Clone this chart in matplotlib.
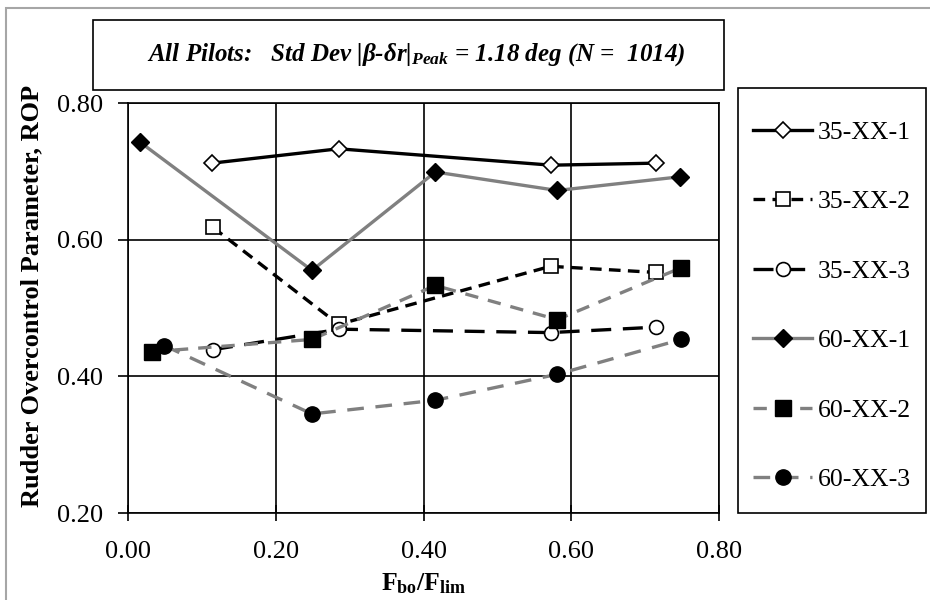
import matplotlib
matplotlib.use("Agg")
import matplotlib.pyplot as plt
from matplotlib.patches import Rectangle

plt.rcParams['font.family'] = ['Liberation Serif', 'DejaVu Serif']
plt.rcParams['mathtext.fontset'] = 'custom'
plt.rcParams['mathtext.rm'] = 'Liberation Serif:bold'
plt.rcParams['mathtext.it'] = 'Liberation Serif:italic:bold'
plt.rcParams['mathtext.bf'] = 'Liberation Serif:bold'

# data
x_35_1 = [0.114, 0.285, 0.573, 0.715]
y_35_1 = [0.712, 0.733, 0.709, 0.712]
x_35_2 = [0.115, 0.285, 0.572, 0.715]
y_35_2 = [0.618, 0.476, 0.561, 0.552]
x_35_3 = [0.115, 0.286, 0.572, 0.715]
y_35_3 = [0.439, 0.469, 0.464, 0.472]
x_60_1 = [0.016, 0.249, 0.416, 0.581, 0.747]
y_60_1 = [0.743, 0.555, 0.699, 0.672, 0.692]
x_60_2 = [0.032, 0.249, 0.416, 0.581, 0.749]
y_60_2 = [0.436, 0.454, 0.533, 0.483, 0.559]
x_60_3 = [0.049, 0.249, 0.416, 0.581, 0.749]
y_60_3 = [0.445, 0.345, 0.365, 0.403, 0.454]
labels = ["35-XX-1", "35-XX-2", "35-XX-3", "60-XX-1", "60-XX-2", "60-XX-3"]

gray = '#808080'
W, H = 930.0, 600.0
fs = 19

fig = plt.figure(figsize=(9.3, 6), dpi=100)
ax = fig.add_axes([128 / W, 1 - 513 / H, (719 - 128) / W, (513 - 103) / H])

lw = 2.4
h1, = ax.plot(x_35_1, y_35_1, color='black', lw=lw, marker='D', ms=8,
              mfc='white', mec='black', mew=1.2)
h2, = ax.plot(x_35_2, y_35_2, color='black', lw=lw, dashes=(3.5, 2.2), marker='s', ms=10,
              mfc='white', mec='black', mew=1.2)
h3, = ax.plot(x_35_3, y_35_3, color='black', lw=lw, dashes=(6, 3.5), marker='o', ms=10,
              mfc='white', mec='black', mew=1.2)
h4, = ax.plot(x_60_1, y_60_1, color=gray, lw=lw, marker='D', ms=9,
              mfc='black', mec='black')
h5, = ax.plot(x_60_2, y_60_2, color=gray, lw=lw, dashes=(4, 3), marker='s', ms=11,
              mfc='black', mec='black')
h6, = ax.plot(x_60_3, y_60_3, color=gray, lw=lw, dashes=(5, 3.5), marker='o', ms=11,
              mfc='black', mec='black')

ax.set_xlim(0, 0.8)
ax.set_ylim(0.2, 0.8)
ax.set_xticks([0, 0.2, 0.4, 0.6, 0.8])
ax.set_yticks([0.2, 0.4, 0.6, 0.8])
ax.set_xticklabels(['0.00', '0.20', '0.40', '0.60', '0.80'])
ax.set_yticklabels(['0.20', '0.40', '0.60', '0.80'])
ax.tick_params(axis='y', direction='out', length=7, width=1.2, labelsize=fs, pad=11)
ax.tick_params(axis='x', direction='inout', length=12, width=1.2, labelsize=fs, pad=14)
ax.grid(True, color='black', lw=1.2)
ax.set_axisbelow(True)
for s in ax.spines.values():
    s.set_linewidth(1.2)

ax.set_ylabel("Rudder Overcontrol Parameter, ROP", fontsize=19, fontweight='bold')
ax.yaxis.set_label_coords(-0.1438, 0.529)
ax.set_xlabel(r"F$_{\mathrm{bo}}$/F$_{\mathrm{lim}}$", fontsize=18.5, fontweight='bold', labelpad=6)

# outer chart border
fig.patches.append(Rectangle((6 / W, -0.1), 1.2, 1 - 8 / H + 0.1, transform=fig.transFigure,
                             fill=False, edgecolor='#a6a6a6', lw=1.5))

# title box
fig.patches.append(Rectangle((93 / W, 1 - 90 / H), (724 - 93) / W, 70 / H,
                             transform=fig.transFigure, fill=False, edgecolor='black', lw=1.2))
fig.text(416 / W, 1 - 55 / H,
         r"All Pilots:   Std Dev |β-δr|$_{Peak}$ = 1.18 deg (N =  1014)",
         ha='center', va='center', fontsize=18, fontweight='bold', fontstyle='italic')

# legend box
fig.patches.append(Rectangle((738 / W, 1 - 513 / H), (926 - 738) / W, (513 - 88) / H,
                             transform=fig.transFigure, fill=False, edgecolor='black', lw=1.2))
fig.legend([h1, h2, h3, h4, h5, h6], labels, loc='center',
           bbox_to_anchor=((738 + 926) / 2 / W, 1 - 306 / H),
           frameon=False, fontsize=18.5, labelspacing=1.81, handlelength=2.3,
           handletextpad=0.2)

fig.savefig("out.png", dpi=100)
